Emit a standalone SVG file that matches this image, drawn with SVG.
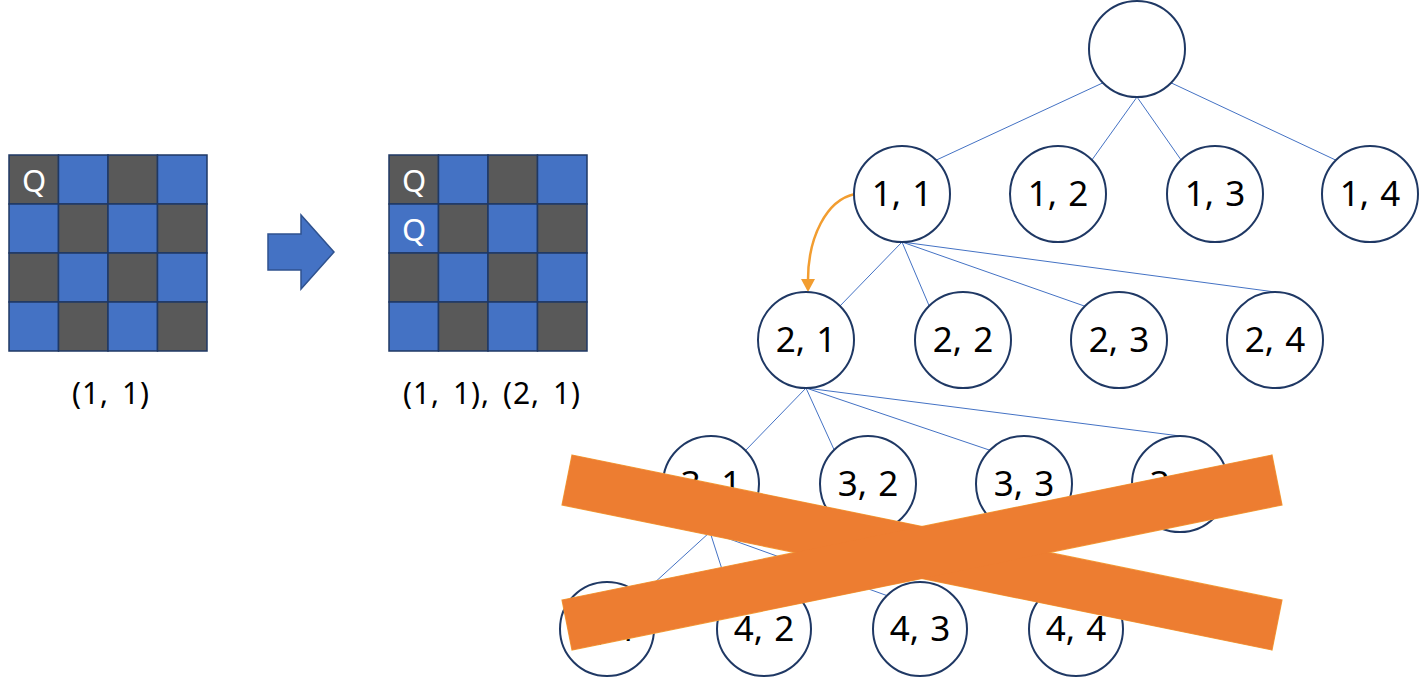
<svg xmlns="http://www.w3.org/2000/svg" width="1420" height="677" viewBox="0 0 1420 677">
<style>
.dk{fill:#595959;stroke:#1F3864;stroke-width:1.5}
.bl{fill:#4472C4;stroke:#1F3864;stroke-width:1.5}
.q{font-family:"Noto Sans","Open Sans",sans-serif;font-size:31px;fill:#ffffff;text-anchor:middle}
.lbl{font-family:"Noto Sans","Open Sans",sans-serif;font-size:30px;fill:#000;text-anchor:middle;letter-spacing:1px;word-spacing:4px}
.nd circle{fill:#fff;stroke:#1F3864;stroke-width:2}
.nd text{font-family:"Noto Sans","Open Sans",sans-serif;font-size:35px;fill:#000;text-anchor:middle;word-spacing:2px}
.edge{stroke:#4472C4;stroke-width:1;fill:none}
.xs{fill:none;stroke:#F4A43A;stroke-width:1.2}
.xf{fill:#ED7D31}
</style>
<g id="board1">
<rect class="dk" x="9" y="155" width="49.5" height="49"/><rect class="bl" x="58.5" y="155" width="49.5" height="49"/><rect class="dk" x="108" y="155" width="49.5" height="49"/><rect class="bl" x="157.5" y="155" width="49.5" height="49"/>
<rect class="bl" x="9" y="204" width="49.5" height="49"/><rect class="dk" x="58.5" y="204" width="49.5" height="49"/><rect class="bl" x="108" y="204" width="49.5" height="49"/><rect class="dk" x="157.5" y="204" width="49.5" height="49"/>
<rect class="dk" x="9" y="253" width="49.5" height="49"/><rect class="bl" x="58.5" y="253" width="49.5" height="49"/><rect class="dk" x="108" y="253" width="49.5" height="49"/><rect class="bl" x="157.5" y="253" width="49.5" height="49"/>
<rect class="bl" x="9" y="302" width="49.5" height="49"/><rect class="dk" x="58.5" y="302" width="49.5" height="49"/><rect class="bl" x="108" y="302" width="49.5" height="49"/><rect class="dk" x="157.5" y="302" width="49.5" height="49"/>
<text class="q" x="34" y="192">Q</text>
<text class="lbl" x="111" y="404">(1, 1)</text>
</g>
<g id="arrow">
<polygon points="268,234 301,234 301,215 334,252 301,289 301,270 268,270" fill="#4472C4" stroke="#2F528F" stroke-width="1.5"/>
</g>
<g id="board2">
<rect class="dk" x="389" y="155" width="49.5" height="49"/><rect class="bl" x="438.5" y="155" width="49.5" height="49"/><rect class="dk" x="488" y="155" width="49.5" height="49"/><rect class="bl" x="537.5" y="155" width="49.5" height="49"/>
<rect class="bl" x="389" y="204" width="49.5" height="49"/><rect class="dk" x="438.5" y="204" width="49.5" height="49"/><rect class="bl" x="488" y="204" width="49.5" height="49"/><rect class="dk" x="537.5" y="204" width="49.5" height="49"/>
<rect class="dk" x="389" y="253" width="49.5" height="49"/><rect class="bl" x="438.5" y="253" width="49.5" height="49"/><rect class="dk" x="488" y="253" width="49.5" height="49"/><rect class="bl" x="537.5" y="253" width="49.5" height="49"/>
<rect class="bl" x="389" y="302" width="49.5" height="49"/><rect class="dk" x="438.5" y="302" width="49.5" height="49"/><rect class="bl" x="488" y="302" width="49.5" height="49"/><rect class="dk" x="537.5" y="302" width="49.5" height="49"/>
<text class="q" x="414" y="192">Q</text>
<text class="q" x="414" y="241">Q</text>
<text class="lbl" x="492" y="404">(1, 1), (2, 1)</text>
</g>
<g id="connectors">
<line class="edge" x1="1103.4" y1="82.6" x2="935.6" y2="160.4"/>
<line class="edge" x1="1137" y1="97" x2="1091.6" y2="160.4"/>
<line class="edge" x1="1137" y1="97" x2="1181.4" y2="160.4"/>
<line class="edge" x1="1170.6" y1="82.6" x2="1336.4" y2="160.4"/>
<line class="edge" x1="902" y1="242" x2="839.6" y2="306.4"/>
<line class="edge" x1="902" y1="242" x2="929.4" y2="306.4"/>
<line class="edge" x1="902" y1="242" x2="1085.4" y2="306.4"/>
<line class="edge" x1="902" y1="242" x2="1275" y2="292"/>
<line class="edge" x1="806" y1="388" x2="745.6" y2="450.4"/>
<line class="edge" x1="806" y1="388" x2="834.4" y2="450.4"/>
<line class="edge" x1="806" y1="388" x2="990.4" y2="450.4"/>
<line class="edge" x1="806" y1="388" x2="1180" y2="436"/>
<line class="edge" x1="710" y1="532" x2="640.6" y2="595.4"/>
<line class="edge" x1="710" y1="532" x2="730.4" y2="595.4"/>
<line class="edge" x1="710" y1="532" x2="886.4" y2="595.4"/>
<line class="edge" x1="710" y1="532" x2="1076" y2="581"/>
<path d="M855,194 C826,200 808,238 808,280" fill="none" stroke="#F29D30" stroke-width="2.5"/>
<polygon points="801,279 815,279 808,292" fill="#F29D30"/>
</g>
<g id="root" class="nd"><circle cx="1137" cy="49" r="48"/></g>
<g id="n11" class="nd"><circle cx="902" cy="194" r="48"/><text x="902" y="206">1, 1</text></g>
<g id="n12" class="nd"><circle cx="1058" cy="194" r="48"/><text x="1058" y="206">1, 2</text></g>
<g id="n13" class="nd"><circle cx="1215" cy="194" r="48"/><text x="1215" y="206">1, 3</text></g>
<g id="n14" class="nd"><circle cx="1370" cy="194" r="48"/><text x="1370" y="206">1, 4</text></g>
<g id="n21" class="nd"><circle cx="806" cy="340" r="48"/><text x="806" y="352">2, 1</text></g>
<g id="n22" class="nd"><circle cx="963" cy="340" r="48"/><text x="963" y="352">2, 2</text></g>
<g id="n23" class="nd"><circle cx="1119" cy="340" r="48"/><text x="1119" y="352">2, 3</text></g>
<g id="n24" class="nd"><circle cx="1275" cy="340" r="48"/><text x="1275" y="352">2, 4</text></g>
<g id="n31" class="nd"><circle cx="711" cy="484" r="48"/><text x="711" y="496">3, 1</text></g>
<g id="n32" class="nd"><circle cx="868" cy="484" r="48"/><text x="868" y="496">3, 2</text></g>
<g id="n33" class="nd"><circle cx="1024" cy="484" r="48"/><text x="1024" y="496">3, 3</text></g>
<g id="n34" class="nd"><circle cx="1180" cy="484" r="48"/><text x="1180" y="496">3, 4</text></g>
<g id="n41" class="nd"><circle cx="607" cy="629" r="47"/><text x="607" y="641">4, 1</text></g>
<g id="n42" class="nd"><circle cx="764" cy="629" r="47"/><text x="764" y="641">4, 2</text></g>
<g id="n43" class="nd"><circle cx="920" cy="629" r="47"/><text x="920" y="641">4, 3</text></g>
<g id="n44" class="nd"><circle cx="1076" cy="629" r="47"/><text x="1076" y="641">4, 4</text></g>
<g id="cross">
<polygon class="xs" points="572,455 1282,600 1272,650 562,505"/>
<polygon class="xs" points="562,600 1272,455 1282,505 572,650"/>
<polygon class="xf" points="572,455 1282,600 1272,650 562,505"/>
<polygon class="xf" points="562,600 1272,455 1282,505 572,650"/>
</g>
</svg>
